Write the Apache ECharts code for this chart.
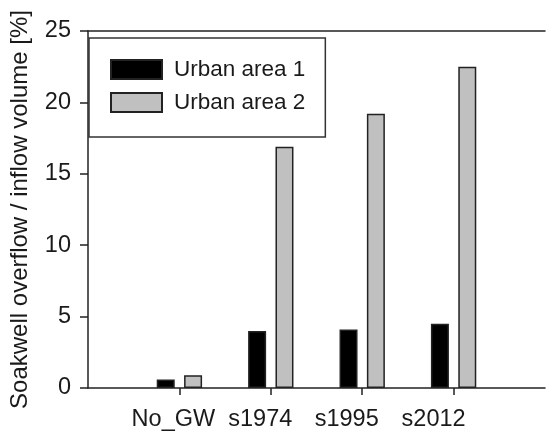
<!DOCTYPE html>
<html>
<head>
<meta charset="utf-8">
<script src="https://cdn.jsdelivr.net/npm/echarts@6/dist/echarts.min.js"></script>
<style>
  html, body { margin: 0; padding: 0; background: #fff; }
  #chart { width: 548px; height: 435px; }
</style>
</head>
<body>
<div id="chart"></div>
<script>
// Scenario categories (padded with empty slots at both ends of the axis)
const categories = ['', 'No_GW', 's1974', 's1995', 's2012', ''];
const urbanArea1 = [null, 0.6, 4.0, 4.1, 4.5, null];
const urbanArea2 = [null, 0.9, 16.9, 19.2, 22.5, null];
const yTicks = [0, 5, 10, 15, 20, 25];

const FONT = '"Liberation Sans", Arial, sans-serif';
const INK = '#1a1a1a';
const LINE = '#222';

// Category labels sit a little left of their ticks, drifting further right-to-left
const labelShift = [0, 12, 21, 31, 40, 0];
const richLabels = {};
labelShift.forEach((s, i) => {
  richLabels['c' + i] = {
    fontFamily: FONT, fontSize: 23.5, color: INK,
    padding: [0, s, 0, 0]
  };
});

const chart = echarts.init(document.getElementById('chart'), null, { renderer: 'canvas' });

chart.setOption({
  animation: false,
  backgroundColor: '#fff',
  textStyle: { fontFamily: FONT, color: INK },
  grid: { left: 84, right: 0, top: 31, bottom: 47, containLabel: false },
  legend: {
    orient: 'vertical',
    left: 89,
    top: 38,
    padding: [20, 20, 23, 21],
    borderColor: '#333',
    borderWidth: 1.5,
    itemWidth: 51,
    itemHeight: 19,
    itemGap: 10,
    icon: 'rect',
    textStyle: { fontFamily: FONT, fontSize: 22.5, color: INK, padding: [0, 0, 0, 7] },
    data: ['Urban area 1', 'Urban area 2']
  },
  xAxis: [
    {
      type: 'category',
      data: categories,
      boundaryGap: false,
      axisLine: { show: true, lineStyle: { color: LINE, width: 1.5 } },
      axisTick: {
        show: true,
        length: 7,
        interval: (i) => i >= 1 && i <= 4,
        lineStyle: { color: LINE, width: 1.5 }
      },
      axisLabel: {
        interval: 0,
        margin: 20,
        fontFamily: FONT,
        fontSize: 23.5,
        color: INK,
        formatter: (v, i) => (v ? '{c' + i + '|' + v + '}' : ''),
        rich: richLabels
      },
      splitLine: { show: false }
    },
    {
      type: 'category',
      data: categories,
      boundaryGap: false,
      position: 'top',
      axisLine: { show: true, onZero: false, lineStyle: { color: LINE, width: 1.5 } },
      axisTick: { show: false },
      axisLabel: { show: false },
      splitLine: { show: false }
    }
  ],
  yAxis: {
    type: 'value',
    min: yTicks[0],
    max: yTicks[yTicks.length - 1],
    interval: 5,
    name: 'Soakwell overflow / inflow volume [%]',
    nameLocation: 'middle',
    nameGap: 56,
    nameTextStyle: { fontFamily: FONT, fontSize: 24, color: INK },
    axisLine: { show: true, lineStyle: { color: LINE, width: 1.5 } },
    axisTick: { show: true, length: 8, lineStyle: { color: LINE, width: 1.5 } },
    axisLabel: { margin: 17, fontFamily: FONT, fontSize: 23.5, color: INK },
    splitLine: { show: false }
  },
  series: [
    {
      name: 'Urban area 1',
      type: 'bar',
      data: urbanArea1,
      barWidth: 18,
      barGap: '52%',
      itemStyle: { color: '#000', borderColor: '#222', borderWidth: 1.5 }
    },
    {
      name: 'Urban area 2',
      type: 'bar',
      data: urbanArea2,
      barWidth: 18,
      barGap: '52%',
      itemStyle: { color: '#c0c0c0', borderColor: '#222', borderWidth: 1.5 }
    }
  ]
});
</script>
</body>
</html>
